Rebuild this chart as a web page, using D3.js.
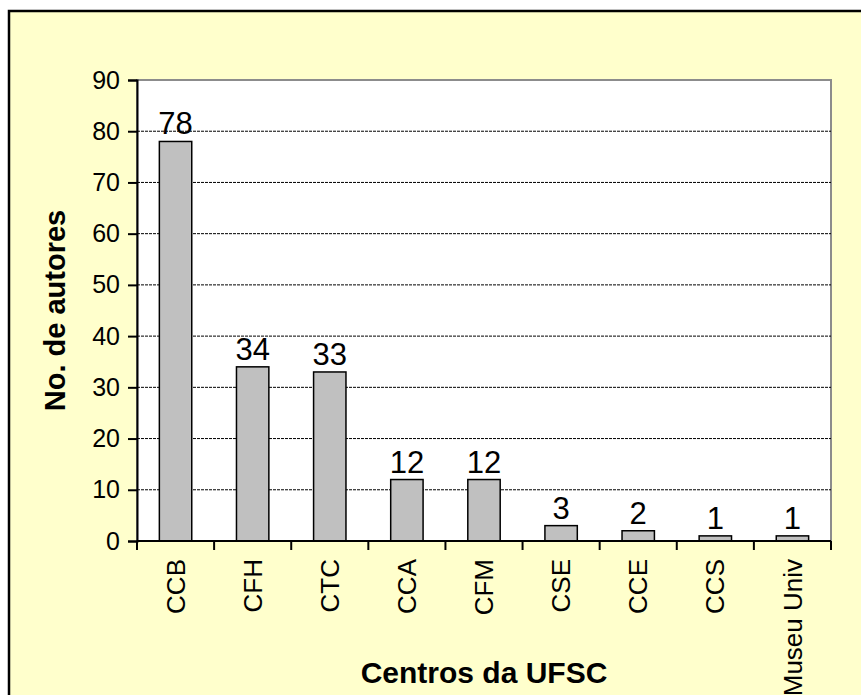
<!DOCTYPE html>
<html lang="pt">
  <head>
    <meta charset="utf-8"/>
    <script src="https://d3js.org/d3.v7.min.js"></script>
    <style>
      body { margin: 0; background: #fff; }
      svg text { font-family: Arial, "Liberation Sans", sans-serif; fill: #000; }
    </style>
  </head>
  <body>
    <svg class="chart" width="861" height="695"></svg>
  </body>
  <script>
    const categories = ["CCB", "CFH", "CTC", "CCA", "CFM", "CSE", "CCE", "CCS", "Museu Univ"];
    const autores = [78, 34, 33, 12, 12, 3, 2, 1, 1];
    const yTicks = [0, 10, 20, 30, 40, 50, 60, 70, 80, 90];

    (function() {
    const svg = d3.select(".chart");
    const plotLeft = 137, plotTop = 80, plotRight = 831, plotBottom = 541;

    // moldura amarela
    svg.append("rect")
      .attr("x", 9).attr("y", 11)
      .attr("width", 900).attr("height", 800)
      .attr("fill", "#ffffcc")
      .attr("stroke", "#000")
      .attr("stroke-width", 2.5);

    const x = d3.scaleBand()
      .domain(categories)
      .range([plotLeft, plotRight])
      .paddingInner(0.58)
      .paddingOuter(0.29);

    const y = d3.scaleLinear()
      .domain([0, 90])
      .range([plotBottom, plotTop]);

    // area do grafico
    svg.append("rect")
      .attr("x", plotLeft).attr("y", plotTop)
      .attr("width", plotRight - plotLeft).attr("height", plotBottom - plotTop)
      .attr("fill", "#fff")
      .attr("stroke", "#8c8c8c")
      .attr("stroke-width", 2);

    svg.append("g")
      .selectAll("line")
      .data(yTicks.filter(function(d) { return d > 0 && d < 90; }))
      .enter().append("line")
        .attr("x1", plotLeft).attr("x2", plotRight)
        .attr("y1", function(d) { return y(d); })
        .attr("y2", function(d) { return y(d); })
        .attr("stroke", "#000")
        .attr("stroke-width", 1)
        .attr("stroke-dasharray", "3,1");

    // barras
    svg.append("g")
      .selectAll("rect")
      .data(autores)
      .enter().append("rect")
        .attr("x", function(d, i) { return x(categories[i]); })
        .attr("y", function(d) { return y(d); })
        .attr("width", x.bandwidth())
        .attr("height", function(d) { return y(0) - y(d); })
        .attr("fill", "#c0c0c0")
        .attr("stroke", "#000")
        .attr("stroke-width", 1.5);

    svg.append("g")
      .selectAll("text")
      .data(autores)
      .enter().append("text")
        .attr("x", function(d, i) { return x(categories[i]) + x.bandwidth() / 2; })
        .attr("y", function(d) { return y(d) - 7; })
        .attr("text-anchor", "middle")
        .style("font-size", "31px")
        .text(function(d) { return d; });

    // eixo y
    const yAxis = svg.append("g")
      .attr("transform", "translate(" + plotLeft + ",0)")
      .call(d3.axisLeft(y).tickValues(yTicks).tickSize(9).tickPadding(8));
    yAxis.selectAll("text").style("font-size", "25px");
    yAxis.select(".domain").attr("stroke-width", 2);
    yAxis.selectAll(".tick line").attr("stroke-width", 2);

    // eixo x: marcas entre categorias
    const step = x.step();
    svg.append("g")
      .selectAll("line")
      .data(d3.range(categories.length + 1))
      .enter().append("line")
        .attr("x1", function(i) { return plotLeft + i * step; })
        .attr("x2", function(i) { return plotLeft + i * step; })
        .attr("y1", plotBottom).attr("y2", plotBottom + 9)
        .attr("stroke", "#000").attr("stroke-width", 2);

    svg.append("line")
      .attr("x1", plotLeft).attr("x2", plotRight)
      .attr("y1", plotBottom).attr("y2", plotBottom)
      .attr("stroke", "#000").attr("stroke-width", 2);

    svg.append("g")
      .selectAll("text")
      .data(categories)
      .enter().append("text")
        .attr("transform", function(d) {
          return "translate(" + (x(d) + x.bandwidth() / 2) + "," + (plotBottom + 18) + ") rotate(-90)";
        })
        .attr("dy", "0.35em")
        .attr("text-anchor", "end")
        .style("font-size", "26px")
        .text(function(d) { return d; });

    // titulos
    svg.append("text")
      .attr("x", (plotLeft + plotRight) / 2)
      .attr("y", 683)
      .attr("text-anchor", "middle")
      .style("font-size", "30px")
      .style("font-weight", "bold")
      .text("Centros da UFSC");

    svg.append("text")
      .attr("transform", "translate(65," + ((plotTop + plotBottom) / 2) + ") rotate(-90)")
      .attr("text-anchor", "middle")
      .style("font-size", "29px")
      .style("font-weight", "bold")
      .text("No. de autores");
    })();
  </script>
</html>
